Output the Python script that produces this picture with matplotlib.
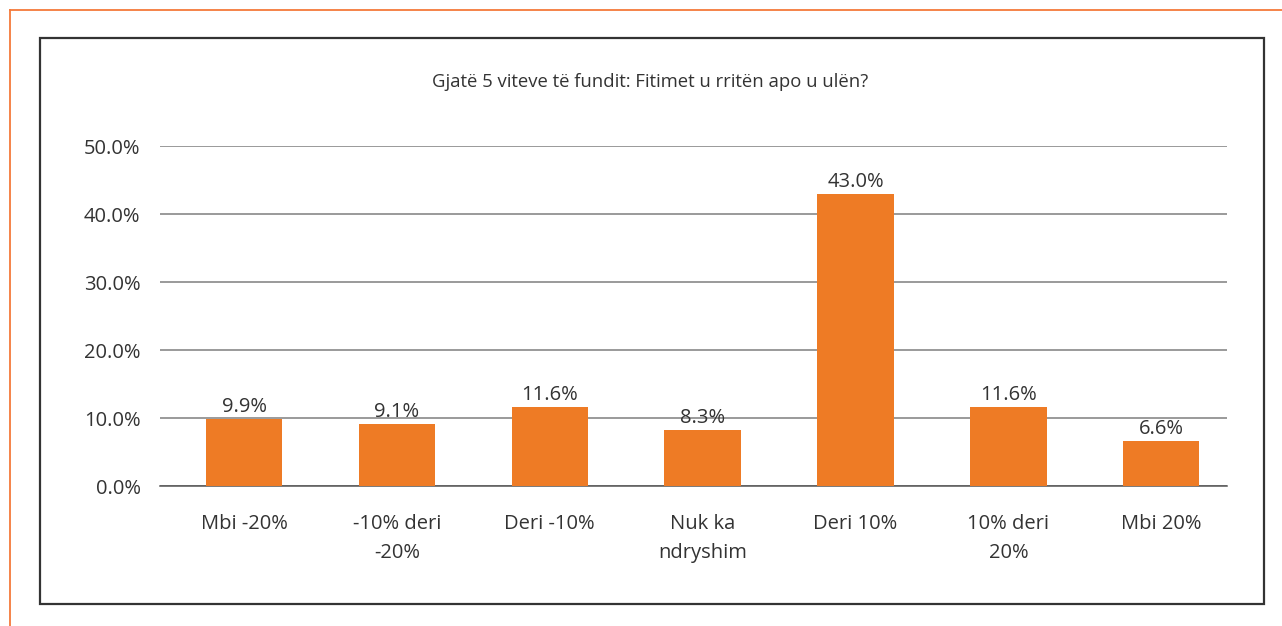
import matplotlib

matplotlib.use("Agg")
import matplotlib.pyplot as plt
from matplotlib.patches import Rectangle
from matplotlib.lines import Line2D

plt.rcParams["font.family"] = ["Open Sans", "DejaVu Sans"]

categories = ["Mbi -20%", "-10% deri\n-20%", "Deri -10%", "Nuk ka\nndryshim",
              "Deri 10%", "10% deri\n20%", "Mbi 20%"]
values = [9.9, 9.1, 11.6, 8.3, 43.0, 11.6, 6.6]
yticks = [0, 10, 20, 30, 40, 50]
title = "Gjatë 5 viteve të fundit: Fitimet u rritën apo u ulën?"

W, H = 1282, 626
fig = plt.figure(figsize=(W / 100, H / 100), dpi=100)

# page frame (orange) and chart box (black)
fig.add_artist(Line2D([9.5 / W, 1], [1 - 10 / H, 1 - 10 / H], color="#f47a3a", lw=1.3))
fig.add_artist(Line2D([9.5 / W, 9.5 / W], [0, 1 - 10 / H], color="#f47a3a", lw=1.3))
fig.add_artist(Rectangle((39.5 / W, 1 - 604 / H), (1264 - 39.5) / W, (604 - 37.5) / H,
                         fill=False, ec="#333333", lw=1.6))

ax = fig.add_axes([160 / W, 1 - 486 / H, (1227 - 160) / W, (486 - 146) / H])
x = range(len(categories))
ax.bar(x, values, width=0.5, color="#ee7b25", zorder=3)
for xi, v in zip(x, values):
    ax.text(xi, v + 0.3, f"{v:.1f}%", ha="center", va="bottom", fontsize=14.5, color="#333333")

ax.set_xlim(-0.55, 6.43)
ax.set_ylim(0, 50)
ax.set_yticks(yticks)
ax.set_yticklabels([f"{t:.1f}%" for t in yticks])
ax.set_xticks(list(x))
ax.set_xticklabels(categories, linespacing=1.6)
ax.grid(axis="y", color="#7f7f7f", lw=1.1, zorder=0)
for s in ["top", "right", "left"]:
    ax.spines[s].set_visible(False)
ax.spines["bottom"].set_color("#555555")
ax.spines["bottom"].set_linewidth(1.1)
ax.tick_params(axis="both", length=0, labelsize=14.5, labelcolor="#333333")
ax.tick_params(axis="x", pad=20)
ax.tick_params(axis="y", pad=14)

fig.text(650 / W, 1 - 82 / H, title, ha="center", va="center",
         fontsize=13.3, color="#333333")

plt.savefig("out.png", dpi=100)
